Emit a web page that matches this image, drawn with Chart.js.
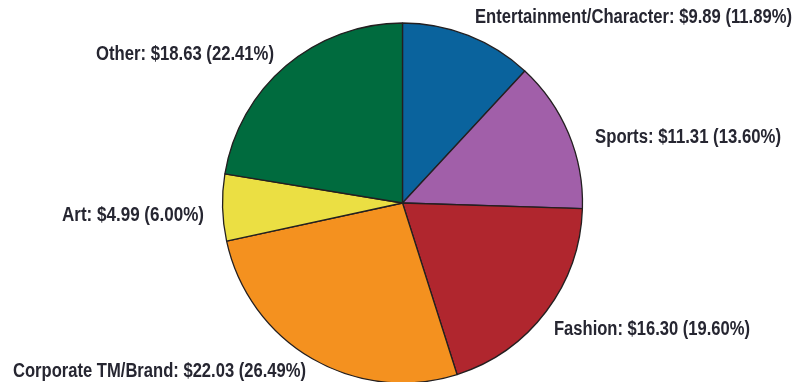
<!DOCTYPE html>
<html>
<head>
<meta charset="utf-8">
<script src="https://cdn.jsdelivr.net/npm/chart.js@4/dist/chart.umd.min.js"></script>
<style>
  html, body { margin: 0; padding: 0; background: #ffffff; overflow: hidden; }
  #wrap { position: relative; width: 795px; height: 382px; }
  #pie { display: block; }
</style>
</head>
<body>
<div id="wrap"><canvas id="pie" width="795" height="382"></canvas></div>
<script>
// Licensed merchandise retail sales by category (billions of dollars)
const categories = ['Entertainment/Character', 'Sports', 'Fashion', 'Corporate TM/Brand', 'Art', 'Other'];
const salesValues = [9.89, 11.31, 16.30, 22.03, 4.99, 18.63];
const sharePercents = [11.89, 13.60, 19.60, 26.49, 6.00, 22.41];

const sliceColors = ['#0a639d', '#a15fa9', '#b0262e', '#f4911f', '#ebdf43', '#006b3e'];

// Label placement: left edge / baseline offsets from the pie centre, in px
const labelOffsets = [
  { dx: 72.5, dy: -180 },
  { dx: 192.5, dy: -60 },
  { dx: 151.5, dy: 132 },
  { dx: -389.5, dy: 174 },
  { dx: -340.5, dy: 18 },
  { dx: -306.5, dy: -143 }
];
const labelWidths = [317, 186, 196, 293, 142, 178];

const labelText = (i) =>
  categories[i] + ': $' + salesValues[i].toFixed(2) + ' (' + sharePercents[i].toFixed(2) + '%)';

const sliceLabels = {
  id: 'sliceLabels',
  afterDatasetsDraw(chart) {
    const arc = chart.getDatasetMeta(0).data[0];
    if (!arc) return;
    const cx = arc.x, cy = arc.y;
    const ctx = chart.ctx;
    ctx.save();
    ctx.fillStyle = '#262631';
    ctx.font = 'bold 20px "Liberation Sans Narrow", "Liberation Sans", sans-serif';
    ctx.textAlign = 'left';
    ctx.textBaseline = 'alphabetic';
    categories.forEach((c, i) => {
      const t = labelText(i);
      const x = cx + labelOffsets[i].dx;
      const y = cy + labelOffsets[i].dy;
      const w = ctx.measureText(t).width;
      const sx = labelWidths[i] / w;
      ctx.save();
      ctx.translate(x, y);
      ctx.scale(sx, 1);
      ctx.fillText(t, 0, 0);
      ctx.restore();
    });
    ctx.restore();
  }
};

new Chart(document.getElementById('pie'), {
  type: 'pie',
  data: {
    labels: categories,
    datasets: [{
      data: salesValues,
      backgroundColor: sliceColors,
      borderColor: '#231f20',
      borderWidth: 1.3,
      clip: false
    }]
  },
  options: {
    responsive: false,
    maintainAspectRatio: false,
    animation: false,
    devicePixelRatio: 1,
    radius: 180,
    layout: { padding: { left: 10, right: 0, top: 24, bottom: 0 } },
    plugins: {
      legend: { display: false },
      tooltip: { enabled: false },
      title: { display: false }
    }
  },
  plugins: [sliceLabels]
});
</script>
</body>
</html>
